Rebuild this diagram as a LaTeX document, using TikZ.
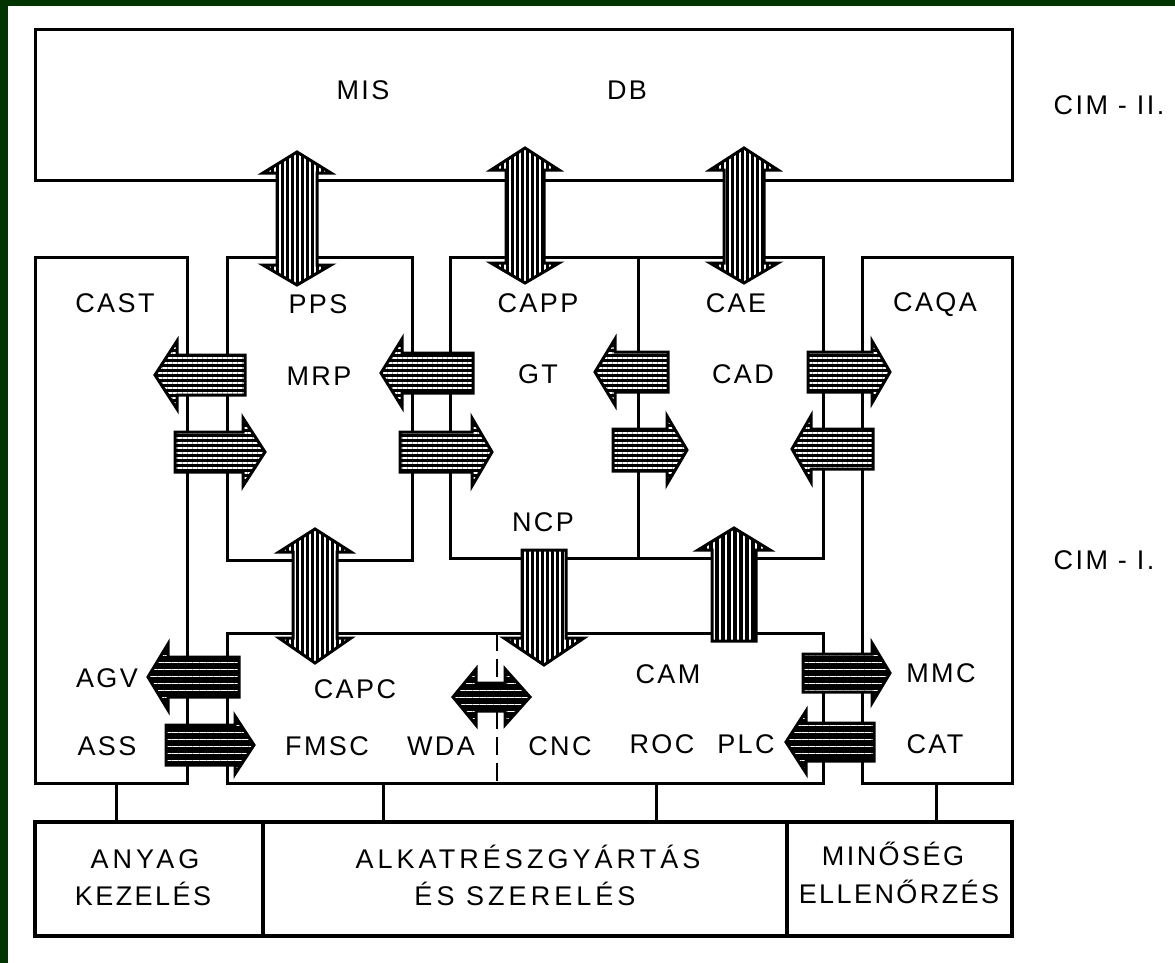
\documentclass[tikz,border=0pt]{standalone}
\usepackage{fontspec}
\setmainfont{Liberation Sans}[LetterSpace=9]
\newfontfamily\widefont{Liberation Sans}[LetterSpace=15]
\usetikzlibrary{patterns.meta}
\definecolor{frame}{RGB}{2,52,2}
\newcommand{\blockH}[7]{\path[#7] ({#3},{#4-#5}) -- ({#2},{#4-#5}) -- ({#2},{#4-#6}) -- ({#1},{#4}) -- ({#2},{#4+#6}) -- ({#2},{#4+#5}) -- ({#3},{#4+#5}) -- cycle;}
\newcommand{\blockHH}[8]{\path[#8] ({#1},{#5}) -- ({#2},{#5-#7}) -- ({#2},{#5-#6}) -- ({#3},{#5-#6}) -- ({#3},{#5-#7}) -- ({#4},{#5}) -- ({#3},{#5+#7}) -- ({#3},{#5+#6}) -- ({#2},{#5+#6}) -- ({#2},{#5+#7}) -- cycle;}
\newcommand{\blockV}[7]{\path[#7] ({#4-#5},{#3}) -- ({#4-#5},{#2}) -- ({#4-#6},{#2}) -- ({#4},{#1}) -- ({#4+#6},{#2}) -- ({#4+#5},{#2}) -- ({#4+#5},{#3}) -- cycle;}
\newcommand{\blockVV}[8]{\path[#8] ({#5},{#1}) -- ({#5-#7},{#2}) -- ({#5-#6},{#2}) -- ({#5-#6},{#3}) -- ({#5-#7},{#3}) -- ({#5},{#4}) -- ({#5+#7},{#3}) -- ({#5+#6},{#3}) -- ({#5+#6},{#2}) -- ({#5+#7},{#2}) -- cycle;}
\begin{document}
\begin{tikzpicture}[x=1pt,y=-1pt,
  box/.style={draw=black, line width=3pt, inner sep=0pt, outer sep=0pt, anchor=north west, line join=miter},
  bbox/.style={box, line width=4.5pt},
  conn/.style={draw=black, line width=3pt},
  dashline/.style={draw=black, line width=2.5pt, dash pattern=on 18pt off 8pt},
  lbl/.style={font=\fontsize{27}{30}\selectfont, inner sep=0pt, anchor=base},
  wlbl/.style={font=\widefont\fontsize{27}{30}\selectfont, inner sep=0pt, anchor=base},
  hatchH/.style={fill=black, postaction={pattern={Lines[angle=0,distance=5pt,line width=2pt]}, pattern color=white}, postaction={draw=black, line width=3pt, line join=miter}},
  hatchV/.style={fill=black, postaction={pattern={Lines[angle=90,distance=5pt,line width=2.4pt]}, pattern color=white}, postaction={draw=black, line width=3pt, line join=miter}},
  darkH/.style={fill=black, postaction={pattern={Lines[angle=0,distance=7pt,line width=0.7pt]}, pattern color=white}, postaction={draw=black, line width=3pt, line join=miter}},
  darkV/.style={fill=black, postaction={pattern={Lines[angle=90,distance=6pt,line width=1.2pt]}, pattern color=white}, postaction={draw=black, line width=3pt, line join=miter}}
]
\useasboundingbox (0,0) rectangle (1175,963);
\fill[white] (0,0) rectangle (1175,963);
\fill[frame] (0,0) rectangle (8,963);
\fill[frame] (0,0) rectangle (1175,6);

% boxes
\node[box, minimum width=977pt, minimum height=150pt] (mis) at (35,30) {};
\node[box, minimum width=152pt, minimum height=526pt] (cast) at (35,257) {};
\node[box, minimum width=185pt, minimum height=303pt] (pps) at (227,257) {};
\node[box, minimum width=188pt, minimum height=301pt] (capp) at (450,257) {};
\node[box, minimum width=185pt, minimum height=301pt] (cae) at (638,257) {};
\node[box, minimum width=150pt, minimum height=526pt] (caqa) at (862,257) {};
\node[box, minimum width=596pt, minimum height=150pt] (lower) at (227,633) {};
\draw[dashline] ([xshift=270pt]lower.north west) -- ([xshift=270pt]lower.south west);

\node[bbox, minimum width=228pt, minimum height=114pt] (anyag) at (35,822) {};
\node[bbox, minimum width=524pt, minimum height=114pt] (alk) at (263,822) {};
\node[bbox, minimum width=225pt, minimum height=114pt] (minoseg) at (787,822) {};

% connectors to bottom row
\draw[conn] ([xshift=5pt]cast.south) -- ([xshift=5pt]cast.south |- anyag.north);
\draw[conn] ([xshift=-142pt]lower.south) -- ([xshift=-142pt]lower.south |- alk.north);
\draw[conn] ([xshift=131pt]lower.south) -- ([xshift=131pt]lower.south |- alk.north);
\draw[conn] ([xshift=-1pt]caqa.south) -- ([xshift=-1pt]caqa.south |- minoseg.north);

% vertical double arrows to MIS/DB
\blockVV{152}{173}{265}{285}{297}{20}{34}{hatchV}
\blockVV{148}{170}{263}{283}{525}{19}{34}{hatchV}
\blockVV{148}{170}{263}{283}{744}{20}{34}{hatchV}

% upper horizontal arrows
\blockH{155}{177}{245}{375}{20}{34}{hatchH}
\blockH{265}{243}{175}{452}{20}{34}{hatchH}
\blockH{381}{402}{473}{373}{20}{34}{hatchH}
\blockH{492}{472}{400}{452}{20}{34}{hatchH}
\blockH{595}{615}{668}{372}{20}{33}{hatchH}
\blockH{687}{667}{613}{450}{21}{34}{hatchH}
\blockH{890}{872}{808}{372}{20}{31}{hatchH}
\blockH{792}{811}{873}{449}{20}{33}{hatchH}

% vertical arrows between levels
\blockVV{529}{552}{638}{663}{315}{22}{36}{hatchV}
\blockV{665}{638}{550}{544}{22}{40}{hatchV}
\blockV{528}{550}{641}{734}{22}{36}{darkV}

% lower horizontal arrows
\blockH{148}{168}{239}{677}{20}{33}{darkH}
\blockH{254}{235}{166}{745}{20}{29}{darkH}
\blockHH{453}{476}{505}{530}{697}{14}{28}{darkH}
\blockH{890}{872}{803}{673}{19}{30}{darkH}
\blockH{786}{806}{874}{742}{19}{31}{darkH}

% labels
\node[lbl] (tmis) at (363,100) {MIS};
\node[lbl] (tdb) at (627,100) {DB};
\node[lbl] (tcim2) at (1109,115) {CIM - II.};
\node[lbl] (tcim1) at (1104,569) {CIM - I.};
\node[lbl] (tcast) at (115,312) {CAST};
\node[lbl] (tpps) at (318,313) {PPS};
\node[lbl] (tcapp) at (538,312) {CAPP};
\node[lbl] (tcae) at (736,312) {CAE};
\node[lbl] (tcaqa) at (935,311) {CAQA};
\node[lbl] (tmrp) at (319,385) {MRP};
\node[lbl] (tgt) at (538,383) {GT};
\node[lbl] (tcad) at (743,383) {CAD};
\node[lbl] (tncp) at (543,531) {NCP};
\node[lbl] (tagv) at (107,687) {AGV};
\node[lbl] (tass) at (107,755) {ASS};
\node[lbl] (tcapc) at (355,698) {CAPC};
\node[lbl] (tfmsc) at (327,755) {FMSC};
\node[lbl] (twda) at (441,755) {WDA};
\node[lbl] (tcnc) at (560,755) {CNC};
\node[lbl] (tcam) at (668,683) {CAM};
\node[lbl] (troc) at (662,753) {ROC};
\node[lbl] (tplc) at (746,753) {PLC};
\node[lbl] (tmmc) at (941,682) {MMC};
\node[lbl] (tcat) at (935,753) {CAT};
\node[wlbl] (tanyag) at (145,868) {ANYAG};
\node[lbl] (tkez) at (143,905) {KEZELÉS};
\node[wlbl] (talk) at (528,868) {ALKATRÉSZGYÁRTÁS};
\node[wlbl] (tesz) at (525,905) {ÉS SZERELÉS};
\node[lbl] (tmin) at (893,865) {MINŐSÉG};
\node[lbl] (tell) at (899,903) {ELLENŐRZÉS};
\end{tikzpicture}
\end{document}
